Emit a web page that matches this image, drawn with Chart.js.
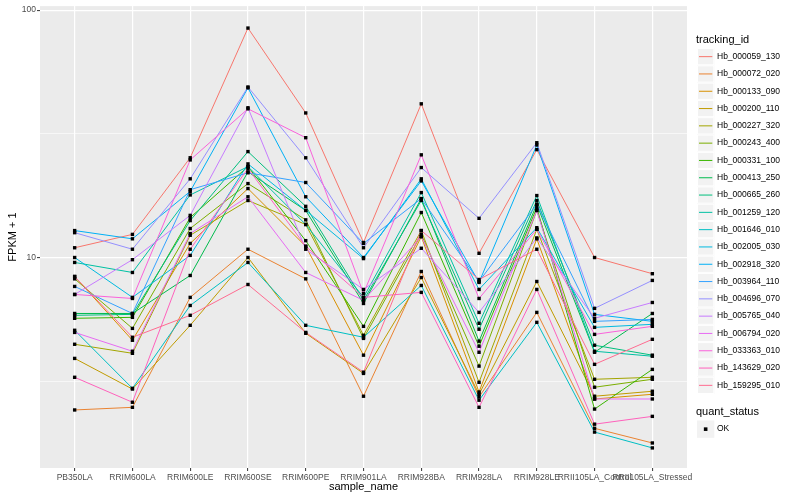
<!DOCTYPE html>
<html>
<head>
<meta charset="utf-8">
<script src="https://cdn.jsdelivr.net/npm/chart.js@4.4.1/dist/chart.umd.min.js"></script>
<style>
  html, body { margin: 0; padding: 0; background: #FFFFFF; }
  #wrap { width: 800px; height: 500px; }
</style>
</head>
<body>
<div id="wrap"><canvas id="fpkmChart" width="800" height="500"></canvas></div>
<script>
// samples on the x axis
const categories = ['PB350LA', 'RRIM600LA', 'RRIM600LE', 'RRIM600SE', 'RRIM600PE', 'RRIM901LA',
    'RRIM928BA', 'RRIM928LA', 'RRIM928LE', 'RRII105LA_Control', 'RRII105LA_Stressed'];

const trackingIds = ['Hb_000059_130', 'Hb_000072_020', 'Hb_000133_090', 'Hb_000200_110', 'Hb_000227_320',
    'Hb_000243_400', 'Hb_000331_100', 'Hb_000413_250', 'Hb_000665_260', 'Hb_001259_120',
    'Hb_001646_010', 'Hb_002005_030', 'Hb_002918_320', 'Hb_003964_110', 'Hb_004696_070',
    'Hb_005765_040', 'Hb_006794_020', 'Hb_033363_010', 'Hb_143629_020', 'Hb_159295_010'];

// FPKM + 1 per sample
const hb_000059_130 = [10.95, 12.4, 25.3, 84.6, 38.4, 11.5, 41.8, 10.4, 27.3, 10.0, 8.6];
const hb_000072_020 = [2.42, 2.48, 6.9, 10.8, 8.2, 2.75, 8.78, 2.73, 6.0, 2.04, 1.78];
const hb_000133_090 = [8.38, 4.63, 11.4, 19.0, 11.1, 4.03, 12.15, 2.86, 11.9, 2.68, 2.8];
const hb_000200_110 = [3.91, 2.94, 5.32, 10.0, 4.94, 3.4, 8.3, 2.8, 8.0, 2.75, 2.88];
const hb_000227_320 = [4.46, 4.1, 12.3, 17.0, 13.6, 4.85, 12.85, 3.13, 13.0, 3.22, 3.28];
const hb_000243_400 = [8.2, 5.17, 13.1, 19.9, 14.2, 4.71, 12.4, 3.64, 15.5, 2.99, 3.22];
const hb_000331_100 = [5.68, 5.73, 14.5, 23.3, 11.7, 5.27, 15.2, 4.38, 15.9, 2.44, 3.53];
const hb_000413_250 = [5.94, 5.94, 8.46, 22.2, 15.5, 6.52, 17.3, 4.59, 16.4, 4.14, 5.94];
const hb_000665_260 = [5.84, 5.89, 14.1, 26.8, 16.1, 6.71, 17.0, 5.13, 17.0, 4.42, 4.03];
const hb_001259_120 = [9.55, 8.7, 17.9, 23.3, 13.6, 6.9, 18.3, 5.42, 17.8, 4.18, 3.99];
const hb_001646_010 = [5.08, 2.96, 6.4, 9.55, 5.32, 4.76, 7.71, 2.65, 5.47, 1.97, 1.70];
const hb_002005_030 = [10.0, 6.9, 10.2, 23.9, 15.5, 9.9, 20.8, 7.43, 13.2, 5.22, 5.37];
const hb_002918_320 = [12.85, 11.9, 18.5, 48.5, 17.6, 10.0, 20.4, 7.93, 28.5, 5.89, 5.52];
const hb_003964_110 = [7.64, 5.94, 18.8, 22.0, 20.1, 11.4, 17.3, 8.0, 16.4, 5.52, 5.62];
const hb_004696_070 = [12.6, 10.8, 20.8, 48.9, 25.3, 10.95, 23.1, 14.4, 29.1, 6.23, 8.08];
const hb_005765_040 = [7.09, 9.8, 14.8, 40.3, 10.8, 7.43, 10.9, 6.0, 12.0, 5.68, 6.58];
const hb_006794_020 = [4.98, 4.18, 12.5, 17.6, 8.7, 6.71, 12.15, 4.14, 15.5, 2.68, 2.68];
const hb_033363_010 = [7.09, 6.83, 24.8, 39.9, 30.5, 7.16, 26.0, 6.83, 13.0, 4.89, 5.27];
const hb_143629_020 = [3.28, 2.6, 10.8, 22.9, 11.1, 6.9, 7.23, 2.48, 7.43, 2.12, 2.28];
const hb_159295_010 = [8.38, 4.76, 5.84, 7.78, 4.98, 3.44, 12.85, 8.15, 10.8, 3.7, 4.67];

const seriesValues = [hb_000059_130, hb_000072_020, hb_000133_090, hb_000200_110, hb_000227_320,
    hb_000243_400, hb_000331_100, hb_000413_250, hb_000665_260, hb_001259_120,
    hb_001646_010, hb_002005_030, hb_002918_320, hb_003964_110, hb_004696_070,
    hb_005765_040, hb_006794_020, hb_033363_010, hb_143629_020, hb_159295_010];

// y breaks: labelled majors and the minor lines ggplot puts between them
const majorBreaks = [10, 100];
const minorBreaks = [3.1623, 31.623];

const hueColors = ['#F8766D', '#EA8331', '#D89000', '#C09B00', '#A3A500', '#7CAE00', '#39B600',
    '#00BB4E', '#00BF7D', '#00C1A3', '#00BFC4', '#00BAE0', '#00B0F6', '#35A2FF', '#9590FF',
    '#C77CFF', '#E76BF3', '#FA62DB', '#FF62BC', '#FF6C91'];

const FONT = '"Liberation Sans", Arial, Helvetica, sans-serif';

const datasets = seriesValues.map((vals, i) => ({
    label: trackingIds[i],
    data: vals.map((v, j) => ({ x: j, y: v })),
    borderColor: hueColors[i],
    backgroundColor: hueColors[i],
    borderWidth: 1,
    pointRadius: 0,
    tension: 0,
    order: seriesValues.length - i
}));

// all points in one layer above every line, like geom_point after geom_line
datasets.push({
    label: 'OK',
    data: seriesValues.flatMap(vals => vals.map((v, j) => ({ x: j, y: v }))),
    showLine: false,
    pointStyle: 'rect',
    pointRadius: 2.4,
    pointBackgroundColor: '#000000',
    pointBorderWidth: 0,
    order: -1
});

const isMajor = v => majorBreaks.some(m => Math.abs(m - v) < 1e-6);

const panelBg = {
    id: 'panelBg',
    beforeDraw(chart) {
        const { ctx, chartArea: a } = chart;
        ctx.save();
        ctx.fillStyle = '#EBEBEB';
        ctx.fillRect(a.left, a.top, a.right - a.left, a.bottom - a.top);
        ctx.restore();
    }
};

const ggLegend = {
    id: 'ggLegend',
    afterDraw(chart) {
        const ctx = chart.ctx;
        const x0 = 697, key = 17.3;
        ctx.save();
        ctx.textBaseline = 'middle';
        ctx.textAlign = 'left';
        ctx.fillStyle = '#000000';
        ctx.font = '11px ' + FONT;
        ctx.fillText('tracking_id', 696, 40);
        ctx.font = '8.5px ' + FONT;
        trackingIds.forEach((id, i) => {
            const top = 48 + i * key;
            ctx.fillStyle = '#F2F2F2';
            ctx.fillRect(x0, top, key, key);
            ctx.strokeStyle = '#FFFFFF';
            ctx.lineWidth = 1;
            ctx.strokeRect(x0 + 0.5, top + 0.5, key - 1, key - 1);
            ctx.strokeStyle = hueColors[i];
            ctx.beginPath();
            ctx.moveTo(x0 + 2, top + key / 2);
            ctx.lineTo(x0 + key - 2, top + key / 2);
            ctx.stroke();
            ctx.fillStyle = '#000000';
            ctx.fillText(id, 717, top + key / 2);
        });
        ctx.font = '11px ' + FONT;
        ctx.fillText('quant_status', 696, 412);
        ctx.fillStyle = '#F2F2F2';
        ctx.fillRect(x0, 420.5, key, key);
        ctx.fillStyle = '#000000';
        ctx.fillRect(x0 + key / 2 - 1.8, 420.5 + key / 2 - 1.8, 3.6, 3.6);
        ctx.font = '8.5px ' + FONT;
        ctx.fillText('OK', 717, 429);
        ctx.restore();
    }
};

new Chart(document.getElementById('fpkmChart'), {
    type: 'line',
    data: { datasets },
    options: {
        responsive: false,
        animation: false,
        events: [],
        layout: { padding: { top: 4, right: 113, left: 0, bottom: 0 } },
        plugins: { legend: { display: false }, tooltip: { enabled: false } },
        scales: {
            x: {
                type: 'linear',
                min: -0.6,
                max: categories.length - 1 + 0.6,
                afterBuildTicks: scale => { scale.ticks = categories.map((c, i) => ({ value: i })); },
                afterFit: scale => { scale.height = 32; },
                border: { display: false },
                grid: { color: '#FFFFFF', lineWidth: 1.2, tickLength: 3, tickColor: '#333333', tickWidth: 1 },
                ticks: {
                    autoSkip: false, maxRotation: 0, minRotation: 0, padding: 2,
                    color: '#4D4D4D', font: { family: FONT, size: 8.5 },
                    callback: v => categories[v]
                },
                title: {
                    display: true, text: 'sample_name', color: '#000000',
                    font: { family: FONT, size: 11 }, padding: { top: 0, bottom: 6 }
                }
            },
            y: {
                type: 'logarithmic',
                min: 1.41,
                max: 103.8,
                afterBuildTicks: scale => {
                    scale.ticks = minorBreaks.concat(majorBreaks).sort((a, b) => a - b).map(v => ({ value: v }));
                },
                afterFit: scale => { scale.width = 40; },
                border: { display: false },
                grid: {
                    color: '#FFFFFF',
                    lineWidth: c => isMajor(c.tick.value) ? 1.2 : 0.6,
                    tickLength: 3,
                    tickWidth: 1,
                    tickColor: c => isMajor(c.tick.value) ? '#333333' : 'rgba(0,0,0,0)'
                },
                ticks: {
                    autoSkip: false, padding: 1,
                    color: '#4D4D4D', font: { family: FONT, size: 8.5 },
                    callback: v => isMajor(v) ? String(v) : ''
                },
                title: {
                    display: true, text: 'FPKM + 1', color: '#000000',
                    font: { family: FONT, size: 11 }, padding: { top: 6, bottom: 0 }
                }
            }
        }
    },
    plugins: [panelBg, ggLegend]
});
</script>
</body>
</html>
